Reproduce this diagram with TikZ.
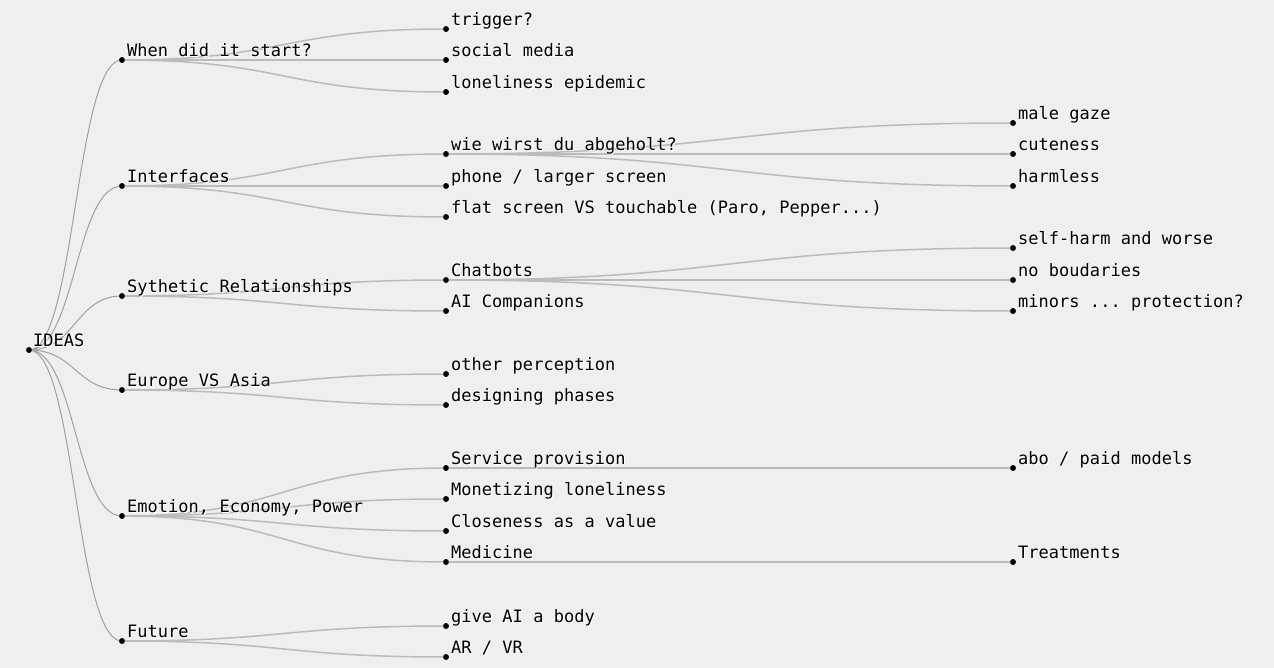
\documentclass[tikz,border=0pt]{standalone}
\usepackage{fontspec}
\setmonofont{DejaVu Sans Mono}
\usetikzlibrary{calc}
\definecolor{bg}{HTML}{EFEFEF}
\definecolor{rootline}{HTML}{A0A0A0}
\definecolor{subline}{HTML}{BBBBBB}
\definecolor{ink}{HTML}{000000}
\newcommand\halotext[1]{\makebox[0pt][l]{\hspace{1.1bp}\raisebox{-1.1bp}{\textcolor{white}{#1}}}\textcolor{ink}{#1}}
\tikzset{
  dotnode/.style={circle,fill=black,inner sep=0pt,minimum size=5.6bp},
  labnode/.style={anchor=base west,inner sep=0pt,font=\ttfamily\fontsize{17.1}{20}\selectfont},
  hlink/.style={to path={let \p1=(\tikztostart), \p2=(\tikztotarget) in
     .. controls ({(\x1+\x2)/2},\y1) and ({(\x1+\x2)/2},\y2) .. (\tikztotarget)}},
  rootlink/.style={hlink,draw=rootline,line width=1bp},
  sublink/.style={hlink,draw=subline,line width=1.5bp},
}
\begin{document}
\begin{tikzpicture}[x=1bp,y=-1bp]
\useasboundingbox[fill=bg] (0,0) rectangle (1274,668);
% dots
\node[dotnode] (root) at (29,350) {};
\node[dotnode] (a) at (122,60) {};
\node[dotnode] (b) at (122,186) {};
\node[dotnode] (c) at (122,296) {};
\node[dotnode] (d) at (122,390) {};
\node[dotnode] (e) at (122,516) {};
\node[dotnode] (f) at (122,641) {};
\node[dotnode] (a1) at (446,29) {};
\node[dotnode] (a2) at (446,60) {};
\node[dotnode] (a3) at (446,92) {};
\node[dotnode] (b1) at (446,154) {};
\node[dotnode] (b2) at (446,186) {};
\node[dotnode] (b3) at (446,217) {};
\node[dotnode] (c1) at (446,280) {};
\node[dotnode] (c2) at (446,311) {};
\node[dotnode] (d1) at (446,374) {};
\node[dotnode] (d2) at (446,405) {};
\node[dotnode] (e1) at (446,468) {};
\node[dotnode] (e2) at (446,499) {};
\node[dotnode] (e3) at (446,531) {};
\node[dotnode] (e4) at (446,562) {};
\node[dotnode] (f1) at (446,626) {};
\node[dotnode] (f2) at (446,657) {};
\node[dotnode] (b11) at (1013,123) {};
\node[dotnode] (b12) at (1013,154) {};
\node[dotnode] (b13) at (1013,186) {};
\node[dotnode] (c11) at (1013,248) {};
\node[dotnode] (c12) at (1013,280) {};
\node[dotnode] (c13) at (1013,311) {};
\node[dotnode] (e11) at (1013,468) {};
\node[dotnode] (e41) at (1013,562) {};
% links
\foreach \t in {a,b,c,d,e,f} \draw[rootlink] (root.center) to (\t.center);
\foreach \s/\t in {a/a1,a/a2,a/a3,b/b1,b/b2,b/b3,c/c1,c/c2,d/d1,d/d2,e/e1,e/e2,e/e3,e/e4,f/f1,f/f2,
  b1/b11,b1/b12,b1/b13,c1/c11,c1/c12,c1/c13,e1/e11,e4/e41}
  \draw[sublink] (\s.center) to (\t.center);
% redraw dots on top
\foreach \n in {root,a,b,c,d,e,f,a1,a2,a3,b1,b2,b3,c1,c2,d1,d2,e1,e2,e3,e4,f1,f2,b11,b12,b13,c11,c12,c13,e11,e41}
  \fill[black] (\n.center) circle (2.8bp);
% labels
\node[labnode] (troot) at ($(root.center)+(4,-3.5)$) {\halotext{IDEAS}};
\node[labnode] (ta) at ($(a.center)+(5,-3.5)$) {\halotext{When did it start?}};
\node[labnode] (tb) at ($(b.center)+(5,-3.5)$) {\halotext{Interfaces}};
\node[labnode] (tc) at ($(c.center)+(5,-3.5)$) {\halotext{Sythetic Relationships}};
\node[labnode] (td) at ($(d.center)+(5,-3.5)$) {\halotext{Europe VS Asia}};
\node[labnode] (te) at ($(e.center)+(5,-3.5)$) {\halotext{Emotion, Economy, Power}};
\node[labnode] (tf) at ($(f.center)+(5,-3.5)$) {\halotext{Future}};
\node[labnode] (ta1) at ($(a1.center)+(5,-3.5)$) {\halotext{trigger?}};
\node[labnode] (ta2) at ($(a2.center)+(5,-3.5)$) {\halotext{social media}};
\node[labnode] (ta3) at ($(a3.center)+(5,-3.5)$) {\halotext{loneliness epidemic}};
\node[labnode] (tb1) at ($(b1.center)+(5,-3.5)$) {\halotext{wie wirst du abgeholt?}};
\node[labnode] (tb2) at ($(b2.center)+(5,-3.5)$) {\halotext{phone / larger screen}};
\node[labnode] (tb3) at ($(b3.center)+(5,-3.5)$) {\halotext{flat screen VS touchable (Paro, Pepper...)}};
\node[labnode] (tc1) at ($(c1.center)+(5,-3.5)$) {\halotext{Chatbots}};
\node[labnode] (tc2) at ($(c2.center)+(5,-3.5)$) {\halotext{AI Companions}};
\node[labnode] (td1) at ($(d1.center)+(5,-3.5)$) {\halotext{other perception}};
\node[labnode] (td2) at ($(d2.center)+(5,-3.5)$) {\halotext{designing phases}};
\node[labnode] (te1) at ($(e1.center)+(5,-3.5)$) {\halotext{Service provision}};
\node[labnode] (te2) at ($(e2.center)+(5,-3.5)$) {\halotext{Monetizing loneliness}};
\node[labnode] (te3) at ($(e3.center)+(5,-3.5)$) {\halotext{Closeness as a value}};
\node[labnode] (te4) at ($(e4.center)+(5,-3.5)$) {\halotext{Medicine}};
\node[labnode] (tf1) at ($(f1.center)+(5,-3.5)$) {\halotext{give AI a body}};
\node[labnode] (tf2) at ($(f2.center)+(5,-3.5)$) {\halotext{AR / VR}};
\node[labnode] (tb11) at ($(b11.center)+(5,-3.5)$) {\halotext{male gaze}};
\node[labnode] (tb12) at ($(b12.center)+(5,-3.5)$) {\halotext{cuteness}};
\node[labnode] (tb13) at ($(b13.center)+(5,-3.5)$) {\halotext{harmless}};
\node[labnode] (tc11) at ($(c11.center)+(5,-3.5)$) {\halotext{self-harm and worse}};
\node[labnode] (tc12) at ($(c12.center)+(5,-3.5)$) {\halotext{no boudaries}};
\node[labnode] (tc13) at ($(c13.center)+(5,-3.5)$) {\halotext{minors ... protection?}};
\node[labnode] (te11) at ($(e11.center)+(5,-3.5)$) {\halotext{abo / paid models}};
\node[labnode] (te41) at ($(e41.center)+(5,-3.5)$) {\halotext{Treatments}};
\end{tikzpicture}
\end{document}
